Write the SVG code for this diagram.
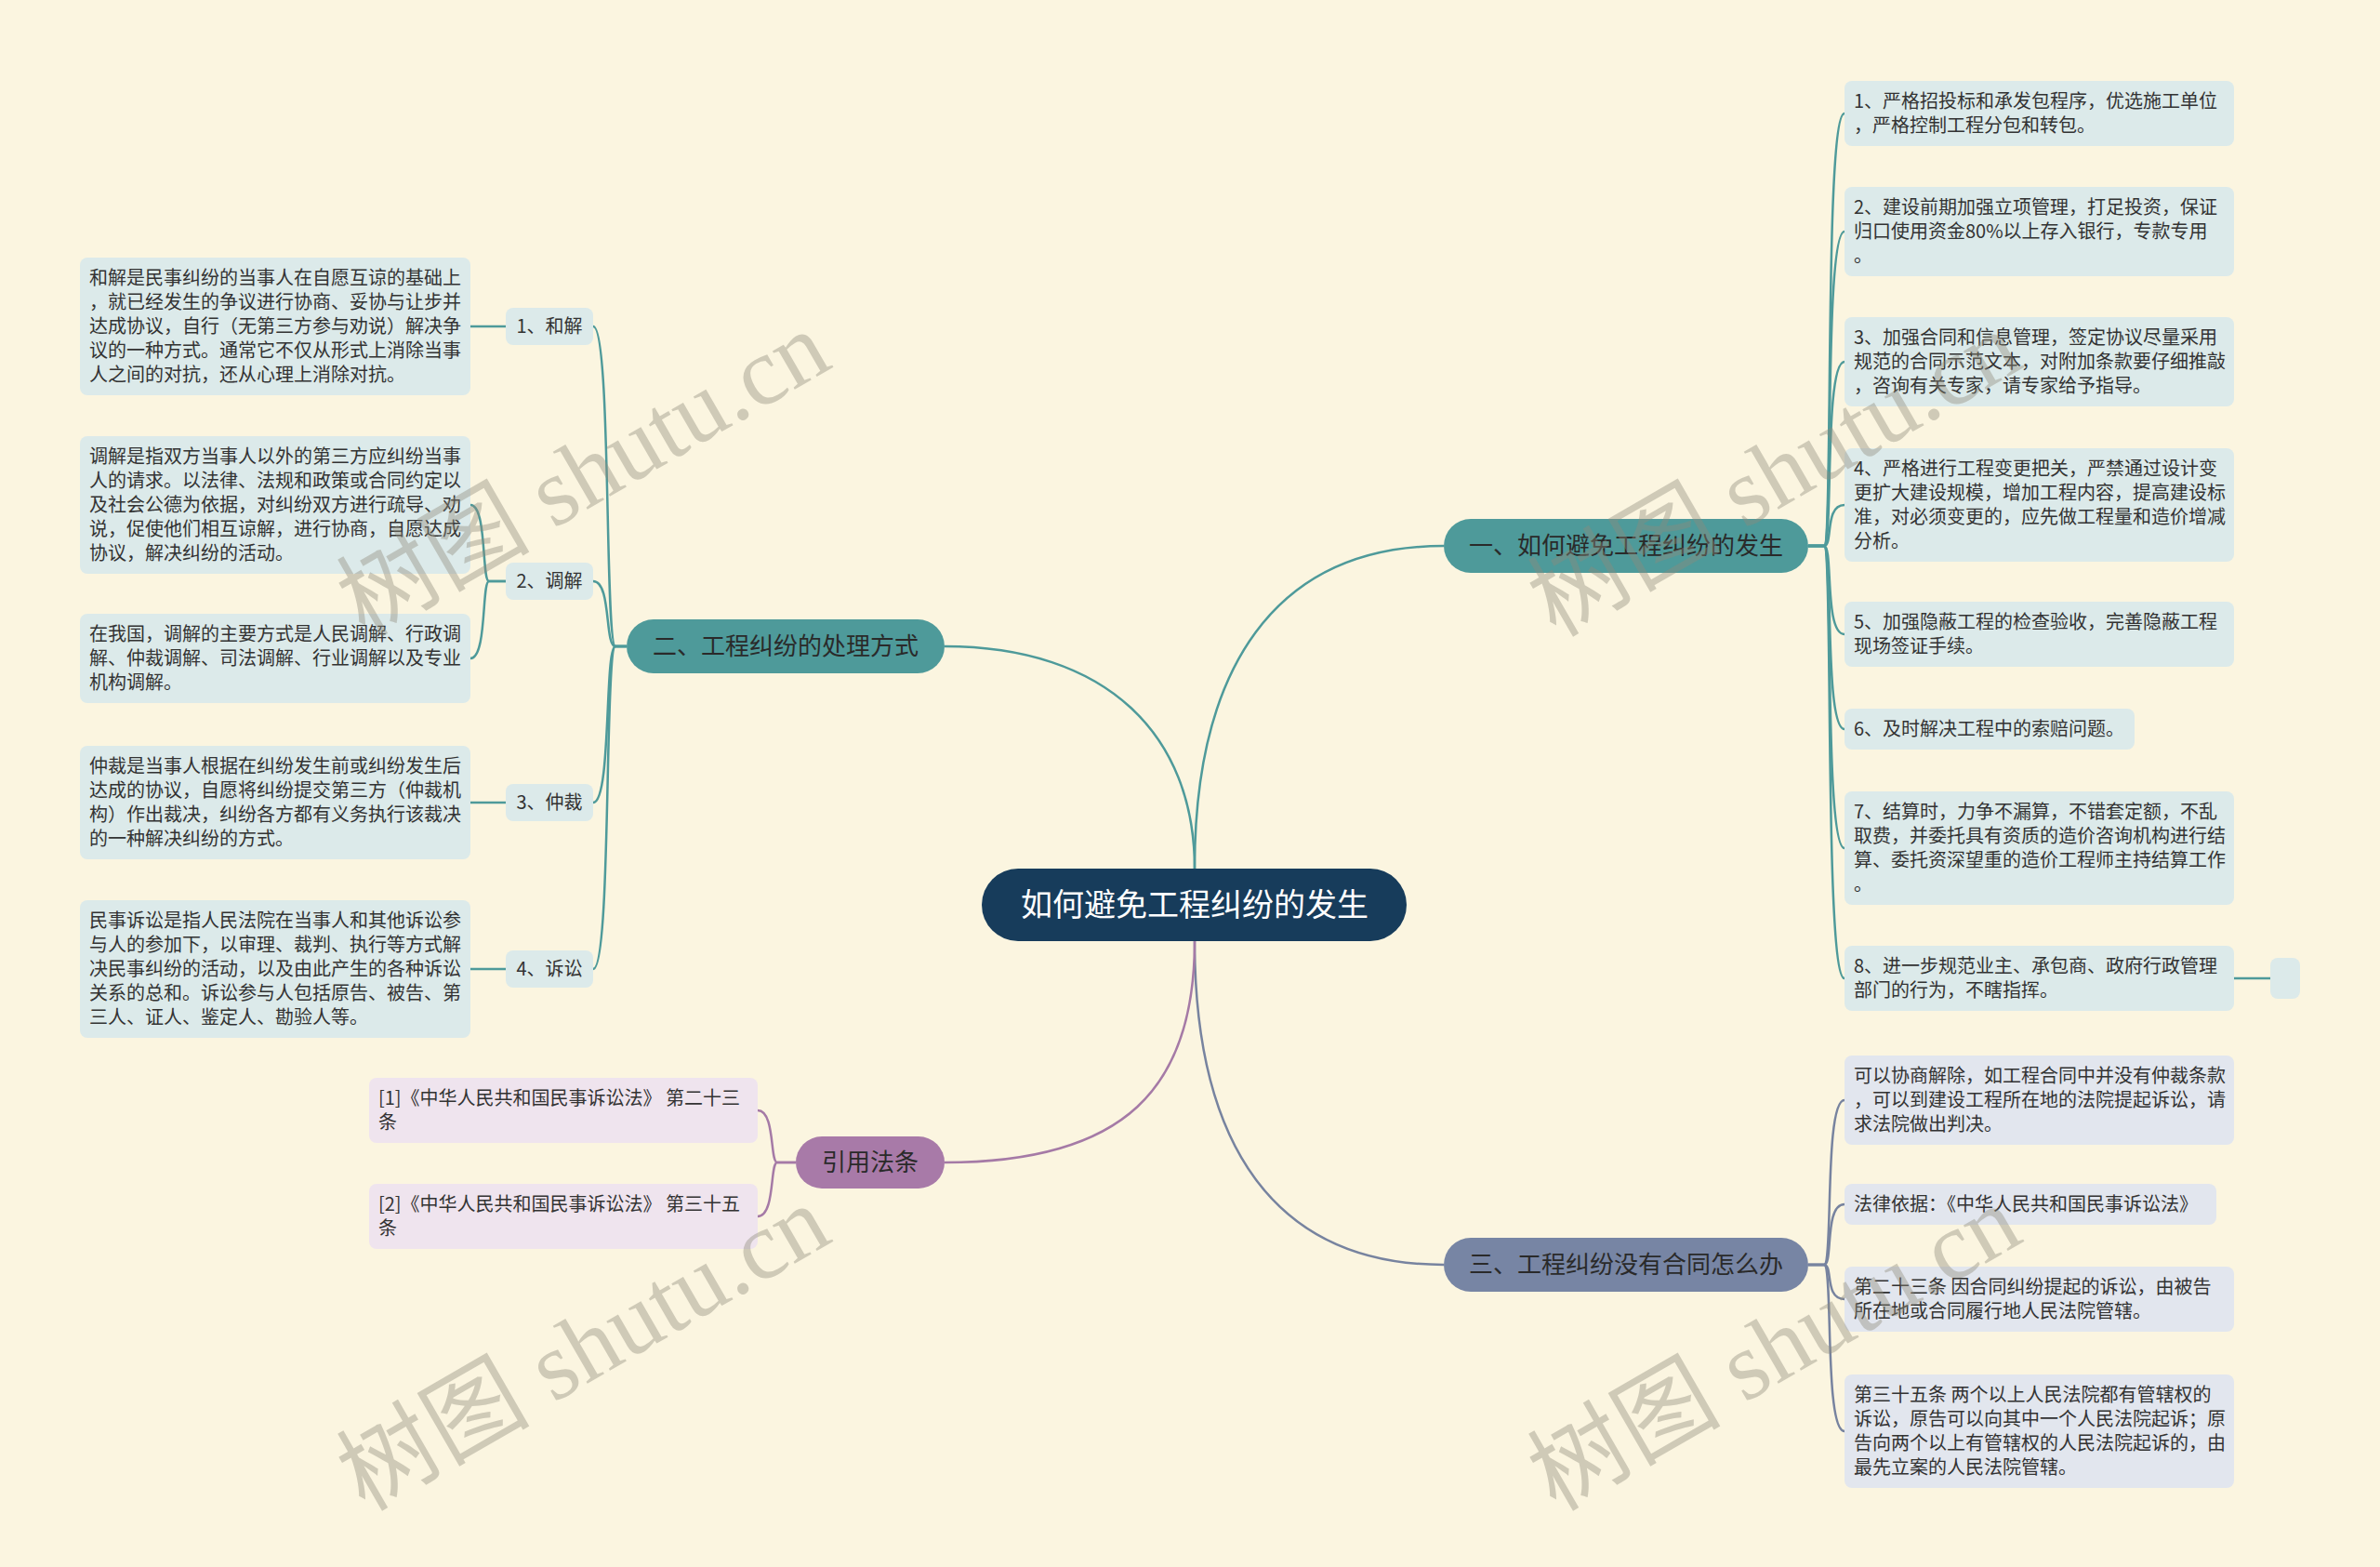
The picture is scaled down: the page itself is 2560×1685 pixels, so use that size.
<svg xmlns="http://www.w3.org/2000/svg" width="2560" height="1685" viewBox="0 0 2560 1685">
<style>
.t{font-family:"Noto Sans CJK SC","Noto Sans",sans-serif;font-size:20px;fill:#333}
.b{font-family:"Noto Sans CJK SC","Noto Sans",sans-serif;font-size:26px;fill:#2a2a2a;text-anchor:middle}
.c{font-family:"Noto Sans CJK SC","Noto Sans",sans-serif;font-size:34px;fill:#fff;text-anchor:middle}
.lt{fill:#dceaea}
.lg{fill:#e2e6ee}
.lp{fill:#efe4ee}
.ct{fill:none;stroke:#4e9a9a;stroke-width:2.5}
.cg{fill:none;stroke:#77839f;stroke-width:2.5}
.cp{fill:none;stroke:#a57aa6;stroke-width:2.5}
.wm{font-family:"Liberation Serif","Noto Sans CJK SC",serif;font-size:104px;fill:#8f8b7b;opacity:0.4;text-anchor:middle}
</style>
<rect width="2560" height="1685" fill="#fbf5e0"/>

<g id="connectors">
<path class="ct" d="M1285 934 C1285 720 1370 587 1553 587"/>
<path class="ct" d="M1016 695 C1190 695 1285 790 1285 934"/>
<path class="cg" d="M1285 1012 C1285 1230 1370 1360 1553 1360"/>
<path class="cp" d="M1285 1012 C1285 1170 1210 1250 1016 1250"/>
<path class="ct" d="M1945 587 H1962 C1972 587 1962 122 1984 122"/>
<path class="ct" d="M1945 587 H1962 C1972 587 1962 249 1984 249"/>
<path class="ct" d="M1945 587 H1962 C1972 587 1962 389 1984 389"/>
<path class="ct" d="M1945 587 H1962 C1972 587 1962 543 1984 543"/>
<path class="ct" d="M1945 587 H1962 C1972 587 1962 682 1984 682"/>
<path class="ct" d="M1945 587 H1962 C1972 587 1962 784 1984 784"/>
<path class="ct" d="M1945 587 H1962 C1972 587 1962 912 1984 912"/>
<path class="ct" d="M1945 587 H1962 C1972 587 1962 1052 1984 1052"/>
<path class="ct" d="M2403 1052 H2442"/>
<path class="cg" d="M1945 1360 H1962 C1972 1360 1962 1183 1984 1183"/>
<path class="cg" d="M1945 1360 H1962 C1972 1360 1962 1295 1984 1295"/>
<path class="cg" d="M1945 1360 H1962 C1972 1360 1962 1397 1984 1397"/>
<path class="cg" d="M1945 1360 H1962 C1972 1360 1962 1539 1984 1539"/>
<path class="ct" d="M674 695 H662 C650 695 658 351 638 351"/>
<path class="ct" d="M674 695 H662 C650 695 658 625 638 625"/>
<path class="ct" d="M674 695 H662 C650 695 658 863 638 863"/>
<path class="ct" d="M674 695 H662 C650 695 658 1042 638 1042"/>
<path class="ct" d="M544 351 H506"/>
<path class="ct" d="M544 625 H526 C518 625 524 543 506 543"/>
<path class="ct" d="M544 625 H526 C518 625 524 708 506 708"/>
<path class="ct" d="M544 863 H506"/>
<path class="ct" d="M544 1042 H506"/>
<path class="cp" d="M856 1250 H836 C828 1250 834 1194 815 1194"/>
<path class="cp" d="M856 1250 H836 C828 1250 834 1308 815 1308"/>
</g>

<g id="root">
<rect x="1056" y="934" width="457" height="78" rx="39" fill="#173c5b"/>
<text class="c" x="1285" y="985">如何避免工程纠纷的发生</text>
</g>

<g id="b1">
<rect x="1553" y="558" width="392" height="58" rx="29" fill="#4e9a9a"/>
<text class="b" x="1749" y="596">一、如何避免工程纠纷的发生</text>
</g>
<g id="b2">
<rect x="674" y="666" width="342" height="58" rx="29" fill="#4e9a9a"/>
<text class="b" x="845" y="704">二、工程纠纷的处理方式</text>
</g>
<g id="b3">
<rect x="1553" y="1331" width="392" height="58" rx="29" fill="#7785a4"/>
<text class="b" x="1749" y="1369">三、工程纠纷没有合同怎么办</text>
</g>
<g id="b4">
<rect x="856" y="1222" width="160" height="56" rx="28" fill="#a87aa8"/>
<text class="b" x="936" y="1259">引用法条</text>
</g>

<g id="r1"><rect class="lt" x="1984" y="87" width="419" height="70" rx="8"/>
<text class="t" x="1994" y="116">1、严格招投标和承发包程序，优选施工单位<tspan x="1994" dy="26">，严格控制工程分包和转包。</tspan></text></g>
<g id="r2"><rect class="lt" x="1984" y="201" width="419" height="96" rx="8"/>
<text class="t" x="1994" y="230">2、建设前期加强立项管理，打足投资，保证<tspan x="1994" dy="26">归口使用资金80%以上存入银行，专款专用</tspan><tspan x="1994" dy="26">。</tspan></text></g>
<g id="r3"><rect class="lt" x="1984" y="341" width="419" height="96" rx="8"/>
<text class="t" x="1994" y="370">3、加强合同和信息管理，签定协议尽量采用<tspan x="1994" dy="26">规范的合同示范文本，对附加条款要仔细推敲</tspan><tspan x="1994" dy="26">，咨询有关专家，请专家给予指导。</tspan></text></g>
<g id="r4"><rect class="lt" x="1984" y="482" width="419" height="122" rx="8"/>
<text class="t" x="1994" y="511">4、严格进行工程变更把关，严禁通过设计变<tspan x="1994" dy="26">更扩大建设规模，增加工程内容，提高建设标</tspan><tspan x="1994" dy="26">准，对必须变更的，应先做工程量和造价增减</tspan><tspan x="1994" dy="26">分析。</tspan></text></g>
<g id="r5"><rect class="lt" x="1984" y="647" width="419" height="70" rx="8"/>
<text class="t" x="1994" y="676">5、加强隐蔽工程的检查验收，完善隐蔽工程<tspan x="1994" dy="26">现场签证手续。</tspan></text></g>
<g id="r6"><rect class="lt" x="1984" y="762" width="312" height="44" rx="8"/>
<text class="t" x="1994" y="791">6、及时解决工程中的索赔问题。</text></g>
<g id="r7"><rect class="lt" x="1984" y="851" width="419" height="122" rx="8"/>
<text class="t" x="1994" y="880">7、结算时，力争不漏算，不错套定额，不乱<tspan x="1994" dy="26">取费，并委托具有资质的造价咨询机构进行结</tspan><tspan x="1994" dy="26">算、委托资深望重的造价工程师主持结算工作</tspan><tspan x="1994" dy="26">。</tspan></text></g>
<g id="r8"><rect class="lt" x="1984" y="1017" width="419" height="70" rx="8"/>
<text class="t" x="1994" y="1046">8、进一步规范业主、承包商、政府行政管理<tspan x="1994" dy="26">部门的行为，不瞎指挥。</tspan></text></g>
<g id="r8a"><rect class="lt" x="2442" y="1030" width="32" height="44" rx="8"/></g>

<g id="g1"><rect class="lg" x="1984" y="1135" width="419" height="96" rx="8"/>
<text class="t" x="1994" y="1164">可以协商解除，如工程合同中并没有仲裁条款<tspan x="1994" dy="26">，可以到建设工程所在地的法院提起诉讼，请</tspan><tspan x="1994" dy="26">求法院做出判决。</tspan></text></g>
<g id="g2"><rect class="lg" x="1984" y="1273" width="400" height="44" rx="8"/>
<text class="t" x="1994" y="1302">法律依据：《中华人民共和国民事诉讼法》</text></g>
<g id="g3"><rect class="lg" x="1984" y="1362" width="419" height="70" rx="8"/>
<text class="t" x="1994" y="1391">第二十三条 因合同纠纷提起的诉讼，由被告<tspan x="1994" dy="26">所在地或合同履行地人民法院管辖。</tspan></text></g>
<g id="g4"><rect class="lg" x="1984" y="1478" width="419" height="122" rx="8"/>
<text class="t" x="1994" y="1507">第三十五条 两个以上人民法院都有管辖权的<tspan x="1994" dy="26">诉讼，原告可以向其中一个人民法院起诉；原</tspan><tspan x="1994" dy="26">告向两个以上有管辖权的人民法院起诉的，由</tspan><tspan x="1994" dy="26">最先立案的人民法院管辖。</tspan></text></g>

<g id="s1"><rect class="lt" x="544" y="331" width="94" height="40" rx="8"/>
<text class="t" x="591" y="358" text-anchor="middle">1、和解</text></g>
<g id="s2"><rect class="lt" x="544" y="605" width="94" height="40" rx="8"/>
<text class="t" x="591" y="632" text-anchor="middle">2、调解</text></g>
<g id="s3"><rect class="lt" x="544" y="843" width="94" height="40" rx="8"/>
<text class="t" x="591" y="870" text-anchor="middle">3、仲裁</text></g>
<g id="s4"><rect class="lt" x="544" y="1022" width="94" height="40" rx="8"/>
<text class="t" x="591" y="1049" text-anchor="middle">4、诉讼</text></g>

<g id="d1"><rect class="lt" x="86" y="277" width="420" height="148" rx="8"/>
<text class="t" x="96" y="306">和解是民事纠纷的当事人在自愿互谅的基础上<tspan x="96" dy="26">，就已经发生的争议进行协商、妥协与让步并</tspan><tspan x="96" dy="26">达成协议，自行（无第三方参与劝说）解决争</tspan><tspan x="96" dy="26">议的一种方式。通常它不仅从形式上消除当事</tspan><tspan x="96" dy="26">人之间的对抗，还从心理上消除对抗。</tspan></text></g>
<g id="d2"><rect class="lt" x="86" y="469" width="420" height="148" rx="8"/>
<text class="t" x="96" y="498">调解是指双方当事人以外的第三方应纠纷当事<tspan x="96" dy="26">人的请求。以法律、法规和政策或合同约定以</tspan><tspan x="96" dy="26">及社会公德为依据，对纠纷双方进行疏导、劝</tspan><tspan x="96" dy="26">说，促使他们相互谅解，进行协商，自愿达成</tspan><tspan x="96" dy="26">协议，解决纠纷的活动。</tspan></text></g>
<g id="d3"><rect class="lt" x="86" y="660" width="420" height="96" rx="8"/>
<text class="t" x="96" y="689">在我国，调解的主要方式是人民调解、行政调<tspan x="96" dy="26">解、仲裁调解、司法调解、行业调解以及专业</tspan><tspan x="96" dy="26">机构调解。</tspan></text></g>
<g id="d4"><rect class="lt" x="86" y="802" width="420" height="122" rx="8"/>
<text class="t" x="96" y="831">仲裁是当事人根据在纠纷发生前或纠纷发生后<tspan x="96" dy="26">达成的协议，自愿将纠纷提交第三方（仲裁机</tspan><tspan x="96" dy="26">构）作出裁决，纠纷各方都有义务执行该裁决</tspan><tspan x="96" dy="26">的一种解决纠纷的方式。</tspan></text></g>
<g id="d5"><rect class="lt" x="86" y="968" width="420" height="148" rx="8"/>
<text class="t" x="96" y="997">民事诉讼是指人民法院在当事人和其他诉讼参<tspan x="96" dy="26">与人的参加下，以审理、裁判、执行等方式解</tspan><tspan x="96" dy="26">决民事纠纷的活动，以及由此产生的各种诉讼</tspan><tspan x="96" dy="26">关系的总和。诉讼参与人包括原告、被告、第</tspan><tspan x="96" dy="26">三人、证人、鉴定人、勘验人等。</tspan></text></g>

<g id="p1"><rect class="lp" x="397" y="1159" width="418" height="70" rx="8"/>
<text class="t" x="407" y="1188">[1]《中华人民共和国民事诉讼法》 第二十三<tspan x="407" dy="26">条</tspan></text></g>
<g id="p2"><rect class="lp" x="397" y="1273" width="418" height="70" rx="8"/>
<text class="t" x="407" y="1302">[2]《中华人民共和国民事诉讼法》 第三十五<tspan x="407" dy="26">条</tspan></text></g>

<g id="watermarks">
<text class="wm" transform="translate(645 540) rotate(-30)">树图 shutu.cn</text>
<text class="wm" transform="translate(1926 540) rotate(-30)">树图 shutu.cn</text>
<text class="wm" transform="translate(645 1480) rotate(-30)">树图 shutu.cn</text>
<text class="wm" transform="translate(1926 1480) rotate(-30)">树图 shutu.cn</text>
</g>
</svg>
